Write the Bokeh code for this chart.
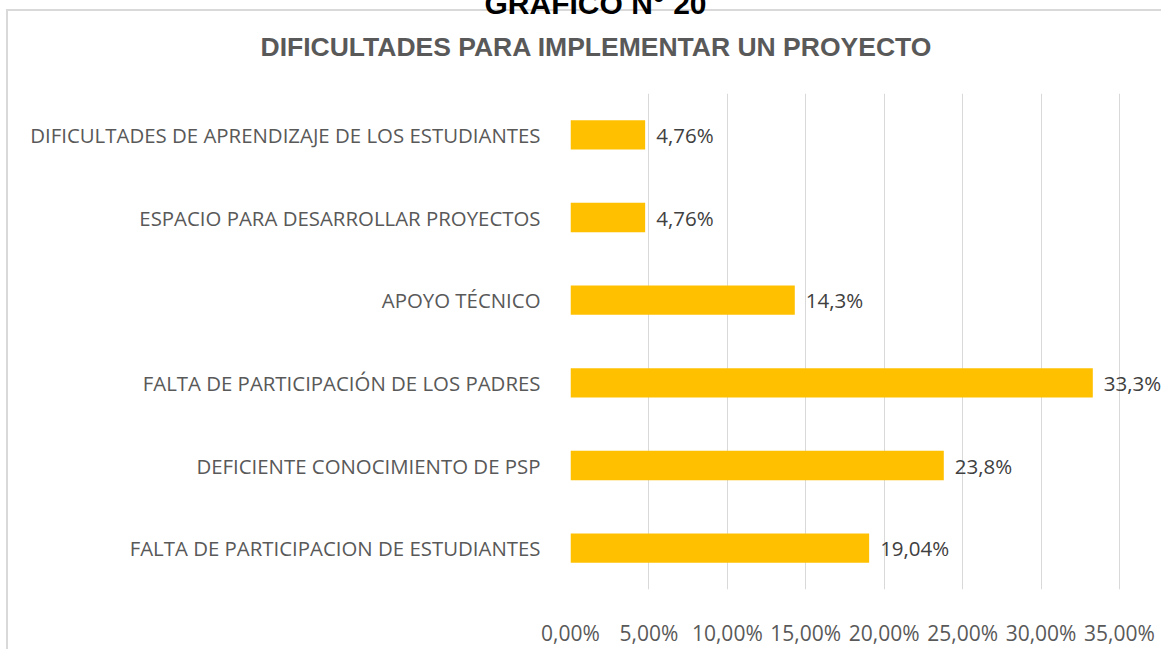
from bokeh.plotting import figure
from bokeh.models import Range1d, FactorRange, FixedTicker, Title, ColumnDataSource, LabelSet
from bokeh.core.properties import value
from bokeh.embed import file_html
from bokeh.resources import INLINE

categories = [
    "DIFICULTADES DE APRENDIZAJE DE LOS ESTUDIANTES",
    "ESPACIO PARA DESARROLLAR PROYECTOS",
    "APOYO TÉCNICO",
    "FALTA DE PARTICIPACIÓN DE LOS PADRES",
    "DEFICIENTE CONOCIMIENTO DE PSP",
    "FALTA DE PARTICIPACION DE ESTUDIANTES",
]
values = [4.76, 4.76, 14.3, 33.3, 23.8, 19.04]
value_labels = ["4,76%", "4,76%", "14,3%", "33,3%", "23,8%", "19,04%"]
tick_values = [0, 5, 10, 15, 20, 25, 30, 35]
tick_labels = ["0,00%", "5,00%", "10,00%", "15,00%", "20,00%", "25,00%", "30,00%", "35,00%"]
title_top = "GRAFICO N° 20"
title_main = "DIFICULTADES PARA IMPLEMENTAR UN PROYECTO"

W, H = 1161, 649
border_bg = ("linear-gradient(#d9d9d9,#d9d9d9) 6px 9px / 2px 800px no-repeat, "
             "linear-gradient(#d9d9d9,#d9d9d9) 6px 9px / 1300px 2px no-repeat, white")
p = figure(width=W, height=H, output_backend="svg", toolbar_location=None,
           y_range=FactorRange(factors=categories[::-1], range_padding=0),
           x_range=Range1d(0, 37.68),
           min_border_left=570, min_border_right=0, min_border_top=93, min_border_bottom=47,
           styles={"background": border_bg})
p.title = None
p.outline_line_color = None
p.background_fill_color = None
p.border_fill_color = None

src = ColumnDataSource(dict(cat=categories, val=values, lab=value_labels))
p.hbar(y="cat", right="val", left=0, height=0.354, source=src, fill_color="#FFC000", line_color=None)

p.add_layout(LabelSet(x="val", y="cat", text="lab", source=src, x_offset=11, y_offset=0,
                      text_baseline="middle", text_font=value("Open Sans"), text_font_size="20.5px",
                      text_color="#404040"))

p.ygrid.grid_line_color = None
p.xgrid.grid_line_color = "#d9d9d9"
p.xgrid.grid_line_width = 1
p.xaxis.ticker = FixedTicker(ticks=tick_values)
p.xaxis.major_label_overrides = {v: l for v, l in zip(tick_values, tick_labels)}
p.xaxis.axis_line_color = None
p.xaxis.major_tick_line_color = None
p.xaxis.minor_tick_line_color = None
p.xaxis.major_label_standoff = 23
p.xaxis.major_label_text_font = "Open Sans"
p.xaxis.major_label_text_font_size = "21px"
p.xaxis.major_label_text_color = "#595959"

p.yaxis.axis_line_color = None
p.yaxis.major_tick_line_color = None
p.yaxis.minor_tick_line_color = None
p.yaxis.major_label_standoff = 24
p.yaxis.major_label_text_font = "Open Sans"
p.yaxis.major_label_text_font_size = "20.4px"
p.yaxis.major_label_text_color = "#595959"

p.add_layout(Title(text=title_main, align="left", offset=-310, vertical_align="top",
                   text_font="Liberation Sans", text_font_style="bold", text_font_size="26.5px",
                   text_color="#595959", standoff=60), "above")
p.add_layout(Title(text=title_top, align="left", offset=-86, vertical_align="bottom",
                   text_font="Liberation Sans", text_font_style="bold", text_font_size="30px",
                   text_color="#000000", standoff=-36.5), "above")

open("out.html", "w").write(file_html(p, INLINE))
